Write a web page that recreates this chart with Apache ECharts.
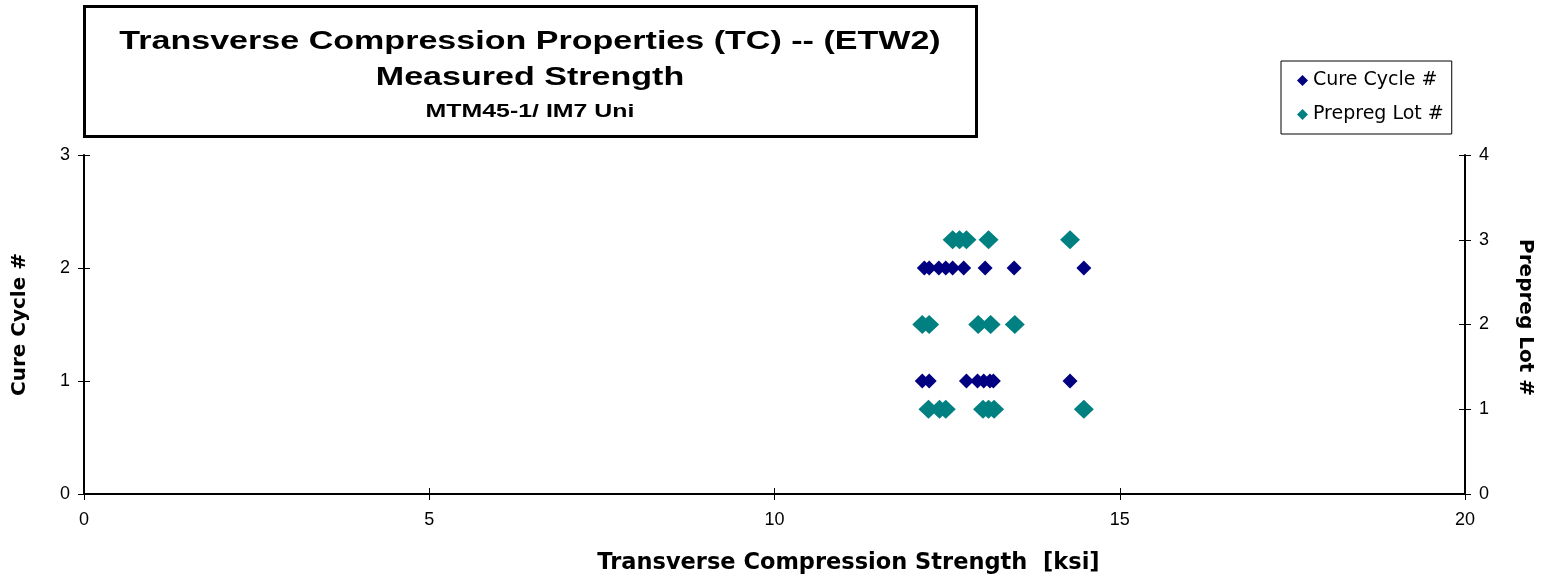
<!DOCTYPE html>
<html><head><meta charset="utf-8">
<script src="https://cdn.jsdelivr.net/npm/echarts@6/dist/echarts.min.js"></script>
<style>html,body{margin:0;padding:0;background:#fff}#c{width:1541px;height:578px}</style>
</head><body><div id="c"></div>
<script>
const titleLines = ["Transverse Compression Properties (TC) -- (ETW2)", "Measured Strength", "MTM45-1/ IM7 Uni"];
const seriesNames = ["Cure Cycle #", "Prepreg Lot #"];
const xAxisName = "Transverse Compression Strength  [ksi]";
const cureStrength = [12.17, 12.24, 12.38, 12.48, 12.58, 12.74, 13.05, 13.47, 14.48,
                      12.14, 12.24, 12.78, 12.94, 13.03, 13.12, 13.17, 14.28];
const cureCycle =    [2, 2, 2, 2, 2, 2, 2, 2, 2,
                      1, 1, 1, 1, 1, 1, 1, 1];
const lotStrength = [12.58, 12.68, 12.78, 13.10, 14.28,
                     12.14, 12.24, 12.95, 13.13, 13.48,
                     12.23, 12.39, 12.48, 13.02, 13.10, 13.18, 14.48];
const lotNumber =   [3, 3, 3, 3, 3,
                     2, 2, 2, 2, 2,
                     1, 1, 1, 1, 1, 1, 1];

const F = 'Liberation Sans, Arial, sans-serif';
const FW = 'DejaVu Sans, Liberation Sans, sans-serif';
const chart = echarts.init(document.getElementById('c'));
const lineS = {onZero:false, lineStyle:{color:'#000', width:2}};
const tickS = {show:true, length:6, lineStyle:{color:'#000', width:1}};
const innerTick = {show:true, inside:true, length:6, lineStyle:{color:'#000', width:1}};
chart.setOption({
  animation:false,
  backgroundColor:'#fff',
  grid:{left:84, right:76, top:155, bottom:84, containLabel:false, outerBoundsMode:'none'},
  legend:{
    orient:'vertical', left:1281, top:61, itemWidth:11, itemHeight:11, itemGap:15,
    padding:[10, 8, 10, 16], borderColor:'#000', borderWidth:1,
    textStyle:{fontFamily:FW, fontSize:19, color:'#000'},
    data:seriesNames
  },
  graphic:[
    {type:'rect', shape:{x:84.5, y:6.5, width:892, height:130}, style:{fill:'none', stroke:'#000', lineWidth:3}},
    {type:'text', x:530, y:42, scaleX:1.31, style:{text:titleLines[0], font:'bold 26px '+F, fill:'#000', align:'center', verticalAlign:'middle'}},
    {type:'text', x:530, y:78, scaleX:1.31, style:{text:titleLines[1], font:'bold 26px '+F, fill:'#000', align:'center', verticalAlign:'middle'}},
    {type:'text', x:530, y:112, scaleX:1.31, style:{text:titleLines[2], font:'bold 19px '+F, fill:'#000', align:'center', verticalAlign:'middle'}}
  ],
  xAxis:[
    {type:'value', min:0, max:20, interval:5, position:'bottom',
     name:xAxisName, nameLocation:'middle', nameGap:58,
     nameTextStyle:{fontFamily:FW, fontSize:22.5, fontWeight:'bold', color:'#000', padding:[0,0,0,148]},
     axisLine:lineS, axisTick:tickS, splitLine:{show:false},
     axisLabel:{fontFamily:F, fontSize:18, color:'#000', margin:17}},
    {type:'value', min:0, max:20, interval:5, position:'bottom',
     axisLine:{show:false}, axisTick:innerTick, axisLabel:{show:false}, splitLine:{show:false}}
  ],
  yAxis:[
    {type:'value', min:0, max:3, interval:1, position:'left',
     name:seriesNames[0], nameLocation:'middle', nameGap:54, nameRotate:90,
     nameTextStyle:{fontFamily:FW, fontSize:20, fontWeight:'bold', color:'#000'},
     axisLine:lineS, axisTick:tickS, splitLine:{show:false},
     axisLabel:{fontFamily:F, fontSize:18, color:'#000', margin:14}},
    {type:'value', min:0, max:4, interval:1, position:'right',
     name:seriesNames[1], nameLocation:'middle', nameGap:50, nameRotate:-90,
     nameTextStyle:{fontFamily:FW, fontSize:20, fontWeight:'bold', color:'#000', padding:[0,14,0,0]},
     axisLine:lineS, axisTick:tickS, splitLine:{show:false},
     axisLabel:{fontFamily:F, fontSize:18, color:'#000', margin:14}},
    {type:'value', min:0, max:3, interval:1, position:'left',
     axisLine:{show:false, onZero:false}, axisTick:innerTick, axisLabel:{show:false}, splitLine:{show:false}},
    {type:'value', min:0, max:4, interval:1, position:'right',
     axisLine:{show:false, onZero:false}, axisTick:innerTick, axisLabel:{show:false}, splitLine:{show:false}}
  ],
  series:[
    {name:seriesNames[0], type:'scatter', xAxisIndex:0, yAxisIndex:0, symbol:'diamond', symbolSize:[15,15],
     itemStyle:{color:'#000080', opacity:1}, data:cureStrength.map((v,i)=>[v, cureCycle[i]])},
    {name:seriesNames[1], type:'scatter', xAxisIndex:0, yAxisIndex:1, symbol:'diamond', symbolSize:[20,19],
     itemStyle:{color:'#008080', opacity:1}, data:lotStrength.map((v,i)=>[v, lotNumber[i]])}
  ]
});
</script></body></html>
